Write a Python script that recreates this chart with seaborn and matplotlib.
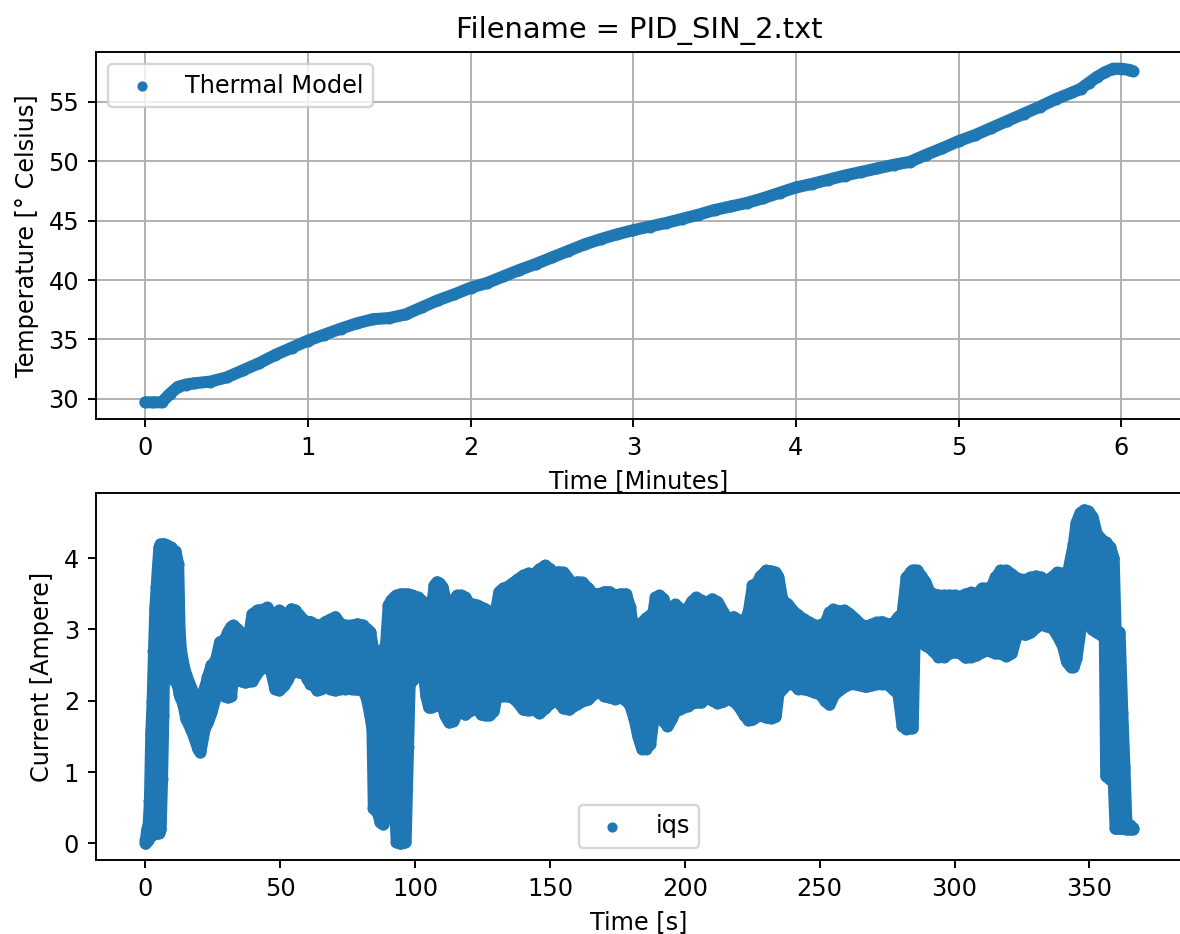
import numpy as np
import matplotlib
matplotlib.use("Agg")
import matplotlib.pyplot as plt
import seaborn as sns

# ---------------- data ----------------
title_text = "Filename = PID_SIN_2.txt"

time_min = [0.00, 0.05, 0.10, 0.15, 0.20, 0.25, 0.30, 0.40, 0.50, 0.60,
            0.70, 0.80, 0.90, 1.00, 1.10, 1.20, 1.30, 1.40, 1.50, 1.60,
            1.70, 1.80, 1.90, 2.00, 2.10, 2.20, 2.30, 2.40, 2.50, 2.60,
            2.70, 2.80, 2.90, 3.00, 3.10, 3.20, 3.30, 3.40, 3.50, 3.60,
            3.70, 3.80, 3.90, 4.00, 4.10, 4.20, 4.30, 4.40, 4.50, 4.60,
            4.70, 4.80, 4.90, 5.00, 5.10, 5.20, 5.30, 5.40, 5.50, 5.60,
            5.70, 5.75, 5.80, 5.85, 5.90, 5.95, 6.00, 6.05, 6.07]
temp_c = [29.7, 29.7, 29.7, 30.4, 31.0, 31.2, 31.3, 31.45, 31.8, 32.4,
          33.0, 33.7, 34.3, 34.9, 35.4, 35.9, 36.35, 36.7, 36.8, 37.1,
          37.7, 38.3, 38.8, 39.35, 39.75, 40.3, 40.85, 41.35, 41.9, 42.45,
          43.0, 43.45, 43.85, 44.2, 44.5, 44.8, 45.15, 45.5, 45.9, 46.2,
          46.5, 46.9, 47.35, 47.8, 48.1, 48.45, 48.8, 49.1, 49.4, 49.7,
          49.95, 50.55, 51.1, 51.7, 52.2, 52.8, 53.4, 54.0, 54.6, 55.25,
          55.8, 56.1, 56.6, 57.1, 57.5, 57.8, 57.8, 57.7, 57.6]

# iqs current: time [s], lower and upper extent of the oscillation band
time_s = [0.0, 0.5, 1.0, 1.5, 2.0, 2.5, 3.0, 3.5, 4.0, 4.5, 5.0, 5.5, 6.0, 6.5,
          7.0, 8.0, 9.0, 9.5, 10.0, 11.0, 12.0, 12.5, 13.0, 14.0, 15.0, 17.0,
          18.0, 19.4, 20.2, 21.8, 23.0, 24.3, 26.0, 27.5, 29.2, 30.5, 31.6,
          32.5, 34.0, 35.5, 37.0, 38.5, 39.5, 41.5, 44.0, 45.0, 46.4, 48.0,
          49.5, 51.3, 52.5, 54.0, 55.5, 57.0, 58.6, 60.0, 61.1, 62.5, 63.5,
          65.0, 66.5, 68.5, 70.3, 72.1, 74.0, 76.5, 78.5, 80.5, 82.0, 83.2,
          84.0, 84.5, 86.0, 87.0, 88.0, 89.0, 90.0, 91.0, 92.0, 93.0, 94.5,
          96.3, 97.2, 97.8, 99.0, 101.0, 103.0, 104.0, 105.0, 106.0, 107.0,
          108.0, 109.0, 110.0, 111.0, 112.5, 114.0, 115.5, 117.0, 118.5,
          120.0, 121.5, 123.0, 124.5, 126.0, 127.5, 129.0, 130.0, 131.0,
          132.5, 134.0, 136.0, 138.0, 140.0, 142.0, 144.0, 146.0, 148.0,
          150.0, 151.5, 153.0, 155.0, 157.0, 158.5, 160.0, 162.0, 164.0,
          166.0, 168.0, 170.0, 172.0, 174.0, 176.0, 178.0, 179.5, 181.2,
          182.5, 184.0, 185.5, 187.0, 188.0, 189.0, 190.5, 192.0, 193.5,
          195.0, 196.5, 198.0, 200.0, 201.0, 202.5, 204.0, 206.0, 208.0,
          210.0, 212.0, 214.0, 216.0, 218.0, 220.0, 222.0, 223.5, 225.0,
          226.5, 228.0, 230.0, 232.0, 233.5, 234.5, 236.0, 238.0, 240.0,
          242.0, 244.0, 246.0, 248.0, 250.0, 252.0, 253.5, 255.0, 257.0,
          259.0, 261.0, 263.0, 265.0, 267.0, 269.0, 271.0, 273.0, 275.0,
          277.0, 279.0, 280.5, 282.0, 283.5, 284.3, 285.0, 286.0, 287.5,
          289.0, 290.5, 292.0, 294.0, 296.0, 298.0, 300.0, 302.0, 304.0,
          306.0, 308.0, 310.0, 311.5, 313.0, 315.0, 317.0, 319.0, 321.0,
          322.5, 324.0, 326.0, 328.0, 330.0, 332.0, 334.0, 336.0, 338.0,
          340.0, 341.5, 343.0, 344.0, 345.0, 346.5, 348.0, 349.5, 351.0,
          352.5, 354.0, 355.5, 356.0, 357.5, 358.8, 359.5, 361.0, 362.0,
          362.8, 363.5, 365.0, 366.0]
iqs_low = [0.0, 0.03, 0.05, 0.1, 0.12, 0.12, 0.13, 0.14, 0.15, 0.15, 0.15, 0.2,
           0.9, 1.8, 3.3, 3.35, 3.35, 2.55, 2.3, 2.3, 2.2, 2.1, 2.05, 1.94,
           1.75, 1.59, 1.49, 1.33, 1.28, 1.61, 1.7, 1.84, 2.07, 2.2, 2.07,
           2.05, 2.07, 2.4, 2.35, 2.28, 2.26, 2.28, 2.28, 2.4, 2.5, 2.48,
           2.43, 2.17, 2.15, 2.22, 2.29, 2.4, 2.45, 2.4, 2.4, 2.31, 2.24,
           2.22, 2.15, 2.17, 2.35, 2.17, 2.15, 2.17, 2.17, 2.17, 2.16, 2.17,
           2.03, 1.8, 1.61, 0.49, 0.44, 0.3, 0.27, 0.39, 0.53, 0.58, 0.77,
           0.02, 0.0, 0.02, 1.35, 2.24, 2.29, 2.38, 2.4, 2.07, 1.91, 1.91,
           1.93, 2.07, 2.3, 1.93, 1.8, 1.7, 1.72, 1.84, 1.86, 1.81, 1.86,
           1.88, 1.91, 1.81, 1.8, 1.8, 1.86, 2.07, 2.07, 2.07, 2.07, 2.05,
           1.98, 1.88, 1.87, 1.88, 1.83, 1.9, 1.97, 2.0, 1.98, 1.9, 1.88,
           1.93, 1.96, 2.0, 2.02, 2.1, 2.13, 2.07, 2.05, 2.03, 2.05, 2.01,
           1.95, 1.75, 1.51, 1.33, 1.33, 1.4, 1.7, 1.8, 1.84, 1.72, 1.65,
           1.75, 1.88, 1.88, 1.92, 1.93, 1.97, 1.98, 1.98, 2.05, 2.01, 1.97,
           1.99, 2.04, 2.0, 1.92, 1.8, 1.73, 1.74, 1.78, 1.8, 1.77, 1.76,
           1.78, 2.1, 2.17, 2.24, 2.24, 2.17, 2.17, 2.15, 2.12, 2.1, 2.0,
           1.95, 2.08, 2.15, 2.2, 2.24, 2.24, 2.22, 2.2, 2.22, 2.24, 2.24,
           2.24, 2.17, 2.1, 1.65, 1.61, 1.62, 1.62, 2.88, 2.85, 2.84, 2.78,
           2.75, 2.7, 2.62, 2.62, 2.67, 2.69, 2.67, 2.61, 2.62, 2.64, 2.69,
           2.73, 2.7, 2.67, 2.67, 2.63, 2.67, 2.88, 2.97, 2.93, 2.96, 3.03,
           3.08, 3.05, 3.03, 2.92, 2.77, 2.55, 2.48, 2.48, 2.6, 3.0, 3.25,
           3.1, 3.0, 2.97, 2.93, 2.9, 0.95, 0.9, 0.88, 0.21, 0.21, 0.21,
           0.21, 0.2, 0.2, 0.2]
iqs_high = [0.05, 0.2, 0.25, 0.6, 1.55, 2.0, 2.7, 3.3, 3.6, 3.9, 4.15, 4.2,
            4.2, 4.2, 4.2, 4.18, 4.15, 4.15, 4.12, 4.1, 3.92, 3.0, 2.72, 2.5,
            2.36, 2.17, 2.08, 1.96, 1.93, 2.17, 2.33, 2.5, 2.57, 2.83, 2.85,
            2.97, 3.04, 3.06, 3.01, 2.94, 2.92, 2.97, 3.22, 3.27, 3.29, 3.31,
            3.24, 3.22, 3.27, 3.22, 3.2, 3.29, 3.27, 3.2, 3.13, 3.11, 3.11,
            3.08, 3.06, 3.06, 3.11, 3.14, 3.18, 3.08, 3.06, 3.06, 3.08, 3.06,
            3.01, 2.97, 2.78, 2.69, 2.66, 2.69, 2.71, 2.78, 3.34, 3.41, 3.45,
            3.48, 3.5, 3.5, 3.5, 3.49, 3.48, 3.45, 3.39, 3.32, 3.29, 3.29,
            3.62, 3.67, 3.65, 3.6, 3.43, 3.39, 3.41, 3.48, 3.48, 3.45, 3.36,
            3.35, 3.34, 3.31, 3.29, 3.22, 3.2, 3.31, 3.53, 3.58, 3.6, 3.65,
            3.71, 3.76, 3.79, 3.78, 3.85, 3.9, 3.85, 3.68, 3.81, 3.8, 3.7,
            3.58, 3.67, 3.66, 3.58, 3.5, 3.5, 3.53, 3.53, 3.48, 3.5, 3.5,
            3.32, 2.87, 3.0, 3.1, 3.16, 3.2, 3.2, 3.45, 3.48, 3.43, 3.2,
            3.32, 3.35, 3.3, 3.22, 3.3, 3.4, 3.45, 3.41, 3.38, 3.43, 3.39,
            3.25, 3.13, 3.18, 3.13, 3.11, 3.25, 3.62, 3.65, 3.75, 3.83, 3.82,
            3.8, 3.74, 3.41, 3.36, 3.26, 3.2, 3.14, 3.1, 3.06, 3.06, 3.1,
            3.24, 3.28, 3.26, 3.27, 3.22, 3.15, 3.08, 3.04, 3.07, 3.1, 3.11,
            3.08, 3.08, 3.18, 3.22, 3.73, 3.8, 3.83, 3.83, 3.83, 3.75, 3.67,
            3.53, 3.5, 3.48, 3.48, 3.48, 3.48, 3.46, 3.5, 3.52, 3.49, 3.58,
            3.58, 3.55, 3.73, 3.83, 3.83, 3.78, 3.73, 3.71, 3.7, 3.73, 3.75,
            3.73, 3.68, 3.74, 3.8, 3.79, 3.72, 4.02, 4.2, 4.5, 4.64, 4.68,
            4.66, 4.58, 4.35, 4.28, 4.23, 4.22, 4.16, 4.0, 3.0, 2.96, 1.83,
            1.07, 0.3, 0.25, 0.22]

labels_top = ("Time [Minutes]", "Temperature [° Celsius]", "Thermal Model")
labels_bot = ("Time [s]", "Current [Ampere]", "iqs")

# ---------------- drawing ----------------
color = "#1f77b4"
DPI = 173
fig = plt.figure(figsize=(1180 / DPI, 934 / DPI), dpi=DPI)
W, H = 1180.0, 934.0
left_px, right_px = 96, 1182
ax1 = fig.add_axes([left_px / W, 1 - 419 / H, (right_px - left_px) / W, 367 / H])
ax2 = fig.add_axes([left_px / W, 1 - 860 / H, (right_px - left_px) / W, 367 / H])

band_lw = 5.0          # points, roughly the dot diameter
dot_area = 25          # points^2

# top: thermal model
sns.lineplot(x=time_min, y=temp_c, ax=ax1, color=color, linewidth=band_lw,
             sort=False, estimator=None, solid_capstyle="round")
sns.scatterplot(x=time_min, y=temp_c, ax=ax1, color=color, s=dot_area,
                linewidth=0, label=labels_top[2], zorder=3)
ax1.grid(True, color="#b0b0b0", linewidth=0.8)
ax1.set_axisbelow(True)
ax1.set_xlabel(labels_top[0])
ax1.set_ylabel(labels_top[1])
ax1.set_title(title_text)
ax1.legend(loc="upper left", markerscale=0.85)

# bottom: iqs current band
ax2.fill_between(time_s, iqs_low, iqs_high,
                 facecolor=color, edgecolor=color, linewidth=band_lw,
                 joinstyle="round")
sns.scatterplot(x=time_s, y=iqs_high, ax=ax2, color=color, s=dot_area,
                linewidth=0, label=labels_bot[2], zorder=3)
sns.scatterplot(x=time_s, y=iqs_low, ax=ax2, color=color, s=dot_area,
                linewidth=0, zorder=3)
ax2.set_xlabel(labels_bot[0])
ax2.set_ylabel(labels_bot[1])
ax2.legend(loc="lower center", markerscale=0.85)

for ax in (ax1, ax2):
    ax.margins(x=0.05, y=0.05)
    ax.spines["right"].set_visible(False)

fig.savefig("out.png", dpi=DPI)
